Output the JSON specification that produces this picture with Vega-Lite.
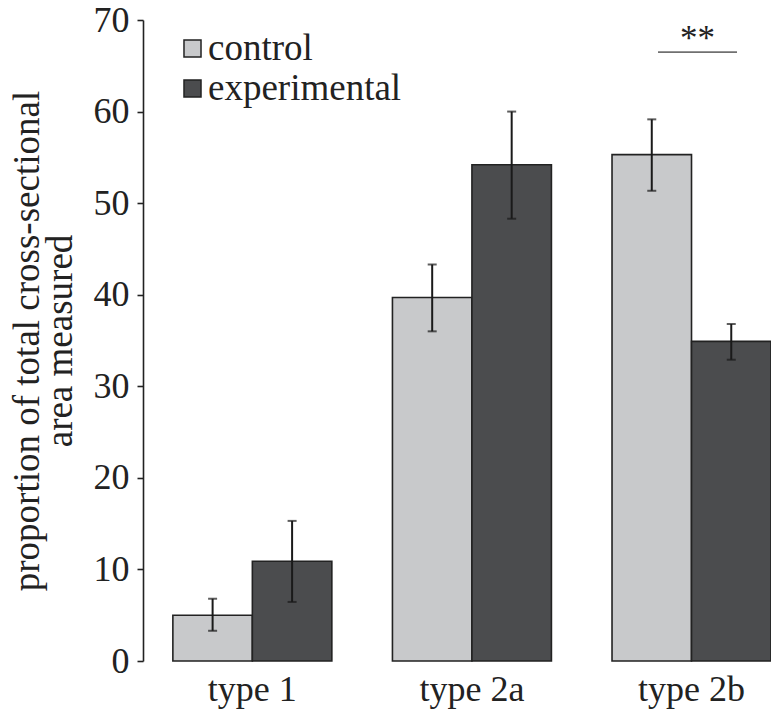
{
  "$schema": "https://vega.github.io/schema/vega-lite/v6.json",
  "width": 628,
  "height": 641,
  "autosize": "none",
  "padding": {"left": 143, "top": 20, "right": 0, "bottom": 48},
  "background": "white",
  "config": {
    "view": {"stroke": null},
    "font": "Liberation Serif",
    "axis": {"labelColor": "#222", "titleColor": "#222", "labelFont": "Liberation Serif", "titleFont": "Liberation Serif", "grid": false}
  },
  "data": {
    "values": [
      {"type": "type 1", "group": "control", "mean": 5.0, "lo": 3.3, "hi": 6.8},
      {"type": "type 1", "group": "experimental", "mean": 10.9, "lo": 6.45, "hi": 15.3},
      {"type": "type 2a", "group": "control", "mean": 39.7, "lo": 36.0, "hi": 43.3},
      {"type": "type 2a", "group": "experimental", "mean": 54.2, "lo": 48.3, "hi": 60.0},
      {"type": "type 2b", "group": "control", "mean": 55.3, "lo": 51.35, "hi": 59.15},
      {"type": "type 2b", "group": "experimental", "mean": 34.9, "lo": 32.9, "hi": 36.8}
    ]
  },
  "layer": [
    {
      "mark": {"type": "bar", "stroke": "#222", "strokeWidth": 1.6},
      "encoding": {
        "x": {
          "field": "type", "type": "nominal", "title": null,
          "scale": {"paddingInner": 0.276, "paddingOuter": 0.068, "align": 1},
          "axis": {"domain": false, "ticks": false, "labelAngle": 0, "labelFontSize": 36, "labelPadding": 11}
        },
        "xOffset": {"field": "group", "type": "nominal", "sort": ["control", "experimental"], "scale": {"paddingInner": 0, "paddingOuter": 0}},
        "y": {
          "field": "mean", "type": "quantitative",
          "scale": {"domain": [0, 70], "nice": false},
          "axis": {
            "values": [0, 10, 20, 30, 40, 50, 60, 70],
            "domainColor": "#222", "domainWidth": 1.6,
            "tickColor": "#222", "tickWidth": 1.6, "tickSize": 6,
            "labelFontSize": 36, "labelPadding": 8,
            "title": ["proportion of total cross-sectional", "area measured"],
            "titleFontSize": 37, "titleFontWeight": "normal", "titleLineHeight": 33, "titlePadding": 14
          }
        },
        "fill": {
          "field": "group", "type": "nominal",
          "scale": {"domain": ["control", "experimental"], "range": ["#c8c9cb", "#4b4c4e"]},
          "legend": {
            "title": null, "orient": "none", "legendX": 31, "legendY": 10,
            "symbolType": "square", "symbolSize": 290, "symbolStrokeColor": "#222", "symbolStrokeWidth": 1.5,
            "labelFontSize": 37, "labelColor": "#222", "labelFont": "Liberation Serif", "labelOffset": -3, "rowPadding": 2, "labelLimit": 400
          }
        }
      }
    },
    {
      "mark": {"type": "rule", "color": "#1a1a1a", "strokeWidth": 2},
      "encoding": {
        "x": {"field": "type", "type": "nominal"},
        "xOffset": {"field": "group", "type": "nominal", "sort": ["control", "experimental"]},
        "y": {"field": "lo", "type": "quantitative"},
        "y2": {"field": "hi"}
      }
    },
    {
      "mark": {"type": "tick", "color": "#1a1a1a", "size": 9, "thickness": 2, "orient": "horizontal"},
      "encoding": {
        "x": {"field": "type", "type": "nominal"},
        "xOffset": {"field": "group", "type": "nominal", "sort": ["control", "experimental"]},
        "y": {"field": "lo", "type": "quantitative"}
      }
    },
    {
      "mark": {"type": "tick", "color": "#1a1a1a", "size": 9, "thickness": 2, "orient": "horizontal"},
      "encoding": {
        "x": {"field": "type", "type": "nominal"},
        "xOffset": {"field": "group", "type": "nominal", "sort": ["control", "experimental"]},
        "y": {"field": "hi", "type": "quantitative"}
      }
    },
    {
      "data": {"values": [{"type": "type 2b", "y": 66.5, "label": "**"}]},
      "mark": {"type": "tick", "color": "#333", "size": 79, "thickness": 1.8, "orient": "horizontal", "xOffset": 6},
      "encoding": {
        "x": {"field": "type", "type": "nominal"},
        "y": {"field": "y", "type": "quantitative"}
      }
    },
    {
      "data": {"values": [{"type": "type 2b", "y": 67.9, "label": "**"}]},
      "mark": {"type": "text", "color": "#222", "fontSize": 35, "font": "Liberation Serif", "baseline": "middle", "dx": 6},
      "encoding": {
        "x": {"field": "type", "type": "nominal"},
        "y": {"field": "y", "type": "quantitative"},
        "text": {"field": "label"}
      }
    }
  ]
}
